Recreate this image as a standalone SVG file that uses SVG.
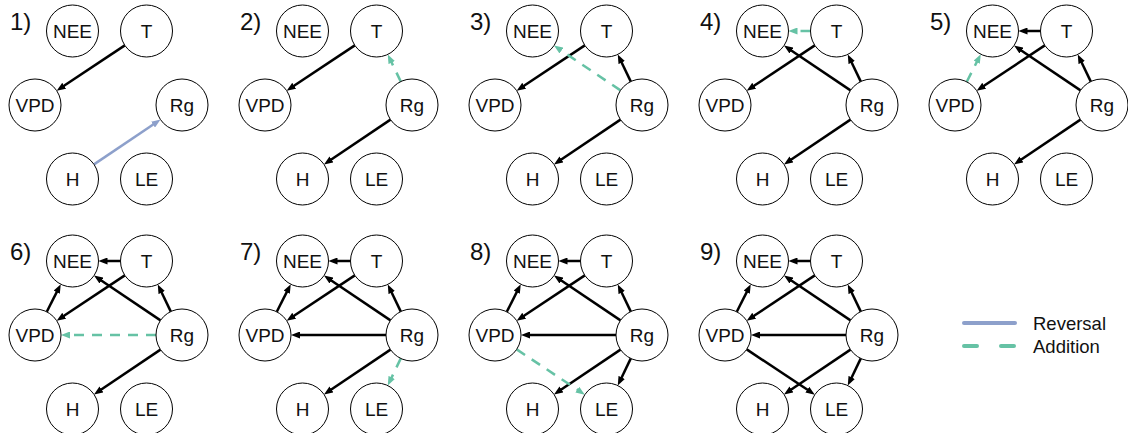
<svg xmlns="http://www.w3.org/2000/svg" xmlns:xlink="http://www.w3.org/1999/xlink" width="1128" height="433" viewBox="0 0 1128 433">
<style>
.n{fill:#fff;stroke:#000;stroke-width:1}
.t{font-family:"Liberation Sans",Arial,sans-serif;font-size:19px;text-anchor:middle;fill:#111}
.p{font-family:"Liberation Sans",Arial,sans-serif;font-size:24px;fill:#111}
.lg{font-family:"Liberation Sans",Arial,sans-serif;font-size:18.5px;fill:#111}
.e{stroke:#000;stroke-width:2.5;fill:none;marker-end:url(#ab)}
.a{stroke:#66c2a5;stroke-width:2.5;fill:none;stroke-dasharray:10 8;marker-end:url(#ag)}
.r{stroke:#8da0cb;stroke-width:2.5;fill:none;marker-end:url(#ar)}
</style>
<defs>
<marker id="ab" markerUnits="userSpaceOnUse" markerWidth="9" markerHeight="7" viewBox="0 0 9 7" refX="2" refY="3.5" orient="auto"><path d="M0,0 L9,3.5 L0,7 z" fill="#000"/></marker>
<marker id="ag" markerUnits="userSpaceOnUse" markerWidth="9" markerHeight="7" viewBox="0 0 9 7" refX="2" refY="3.5" orient="auto"><path d="M0,0 L9,3.5 L0,7 z" fill="#66c2a5"/></marker>
<marker id="ar" markerUnits="userSpaceOnUse" markerWidth="9" markerHeight="7" viewBox="0 0 9 7" refX="2" refY="3.5" orient="auto"><path d="M0,0 L9,3.5 L0,7 z" fill="#8da0cb"/></marker>
<line id="TV" x1="124.8" y1="45.4" x2="62.5" y2="86.8"/>
<line id="HR" x1="94" y1="164.4" x2="154.7" y2="123.5"/>
<line id="RH" x1="160.5" y1="119.6" x2="99.8" y2="160.5"/>
<line id="RT" x1="170.8" y1="81.6" x2="160.8" y2="60.8"/>
<line id="RN" x1="160.5" y1="90.4" x2="99.8" y2="49.5"/>
<line id="TN" x1="120.5" y1="31" x2="105.5" y2="31"/>
<line id="VN" x1="46.8" y1="81.8" x2="57.6" y2="60.4"/>
<line id="RV" x1="156" y1="105" x2="68" y2="105"/>
<line id="RL" x1="170.8" y1="128.4" x2="160.8" y2="149.2"/>
<line id="VL" x1="56.7" y1="119.4" x2="119" y2="160.8"/>
<g id="nodes">
<g id="NEE"><circle class="n" cx="72.5" cy="31" r="26"/><text class="t" x="72.5" y="37.8">NEE</text></g>
<g id="T"><circle class="n" cx="146.5" cy="31" r="26"/><text class="t" x="146.5" y="37.8">T</text></g>
<g id="VPD"><circle class="n" cx="35" cy="105" r="26"/><text class="t" x="35" y="111.8">VPD</text></g>
<g id="Rg"><circle class="n" cx="182" cy="105" r="26"/><text class="t" x="182" y="111.8">Rg</text></g>
<g id="H"><circle class="n" cx="72.5" cy="179" r="26"/><text class="t" x="72.5" y="185.8">H</text></g>
<g id="LE"><circle class="n" cx="146.5" cy="179" r="26"/><text class="t" x="146.5" y="185.8">LE</text></g>
</g>
</defs>

<g id="panel1">
<text class="p" x="10" y="30">1)</text>
<g id="p1-connectors"><use href="#TV" class="e"/><use href="#HR" class="r"/></g>
<use id="p1-nodes" href="#nodes"/>
</g>

<g id="panel2" transform="translate(230,0)">
<text class="p" x="10" y="30">2)</text>
<g id="p2-connectors"><use href="#TV" class="e"/><use href="#RH" class="e"/><use href="#RT" class="a"/></g>
<use id="p2-nodes" href="#nodes"/>
</g>

<g id="panel3" transform="translate(460,0)">
<text class="p" x="10" y="30">3)</text>
<g id="p3-connectors"><use href="#TV" class="e"/><use href="#RH" class="e"/><use href="#RT" class="e"/><use href="#RN" class="a"/></g>
<use id="p3-nodes" href="#nodes"/>
</g>

<g id="panel4" transform="translate(690,0)">
<text class="p" x="10" y="30">4)</text>
<g id="p4-connectors"><use href="#TV" class="e"/><use href="#RH" class="e"/><use href="#RT" class="e"/><use href="#RN" class="e"/><use href="#TN" class="a"/></g>
<use id="p4-nodes" href="#nodes"/>
</g>

<g id="panel5" transform="translate(920,0)">
<text class="p" x="10" y="30">5)</text>
<g id="p5-connectors"><use href="#TV" class="e"/><use href="#RH" class="e"/><use href="#RT" class="e"/><use href="#RN" class="e"/><use href="#TN" class="e"/><use href="#VN" class="a"/></g>
<use id="p5-nodes" href="#nodes"/>
</g>

<g id="panel6" transform="translate(0,230)">
<text class="p" x="10" y="30">6)</text>
<g id="p6-connectors"><use href="#TV" class="e"/><use href="#RH" class="e"/><use href="#RT" class="e"/><use href="#RN" class="e"/><use href="#TN" class="e"/><use href="#VN" class="e"/><use href="#RV" class="a"/></g>
<use id="p6-nodes" href="#nodes"/>
</g>

<g id="panel7" transform="translate(230,230)">
<text class="p" x="10" y="30">7)</text>
<g id="p7-connectors"><use href="#TV" class="e"/><use href="#RH" class="e"/><use href="#RT" class="e"/><use href="#RN" class="e"/><use href="#TN" class="e"/><use href="#VN" class="e"/><use href="#RV" class="e"/><use href="#RL" class="a"/></g>
<use id="p7-nodes" href="#nodes"/>
</g>

<g id="panel8" transform="translate(460,230)">
<text class="p" x="10" y="30">8)</text>
<g id="p8-connectors"><use href="#TV" class="e"/><use href="#RH" class="e"/><use href="#RT" class="e"/><use href="#RN" class="e"/><use href="#TN" class="e"/><use href="#VN" class="e"/><use href="#RV" class="e"/><use href="#RL" class="e"/><use href="#VL" class="a"/></g>
<use id="p8-nodes" href="#nodes"/>
</g>

<g id="panel9" transform="translate(690,230)">
<text class="p" x="10" y="30">9)</text>
<g id="p9-connectors"><use href="#TV" class="e"/><use href="#RH" class="e"/><use href="#RT" class="e"/><use href="#RN" class="e"/><use href="#TN" class="e"/><use href="#VN" class="e"/><use href="#RV" class="e"/><use href="#RL" class="e"/><use href="#VL" class="e"/></g>
<use id="p9-nodes" href="#nodes"/>
</g>

<g id="legend">
<line x1="964" y1="323" x2="1015" y2="323" stroke="#8da0cb" stroke-width="4" stroke-linecap="round"/>
<line x1="964" y1="346" x2="1014" y2="346" stroke="#66c2a5" stroke-width="4" stroke-linecap="round" stroke-dasharray="13 24"/>
<text class="lg" x="1033" y="329.5">Reversal</text>
<text class="lg" x="1033" y="352.5">Addition</text>
</g>
</svg>
